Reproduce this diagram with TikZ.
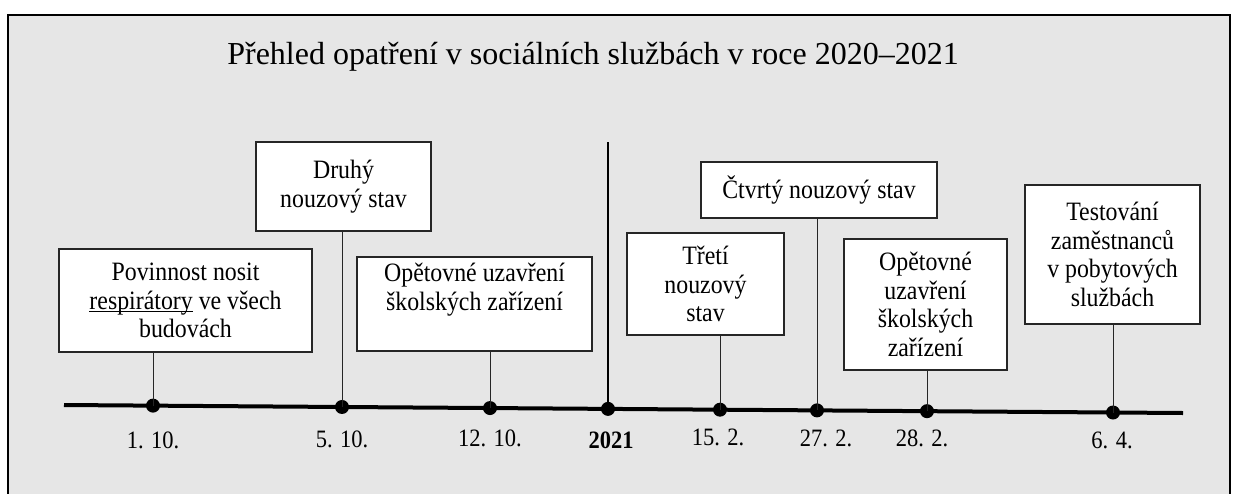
\documentclass[tikz,border=0pt]{standalone}
\usepackage{fontspec}
\setmainfont{Liberation Serif}
\newfontfamily\boxfont{Liberation Serif}[FakeStretch=0.9]
\definecolor{bggray}{HTML}{E6E6E6}
\newcommand\myul[1]{\setbox0\hbox{#1}\rlap{\rule[-3pt]{\wd0}{1.2pt}}\box0\relax}
\begin{document}
\begin{tikzpicture}[x=1pt,y=-1pt,
  evbox/.style={draw=black!85, line width=1.1pt, fill=white, align=center,
    inner sep=0pt, font=\boxfont\fontsize{26.5}{28.5}\selectfont},
  stem/.style={draw=black!85, line width=1pt},
  dot/.style={circle, fill=black, inner sep=0pt, minimum size=14pt},
  datelbl/.style={font=\boxfont\fontsize{25}{27}\selectfont, inner sep=0pt}]
\useasboundingbox (0,0) rectangle (1235,493);
\fill[white] (0,0) rectangle (1235,493);
\fill[bggray] (8,15) rectangle (1230,500);
\draw[line width=2pt] (8,500) -- (8,15) -- (1230,15) -- (1230,500);
\node[font=\fontsize{32}{36}\selectfont, inner sep=0pt] (title) at (593,57) {Přehled opatření v sociálních službách v roce 2020–2021};
% timeline
\coordinate (tl) at (64,405);
\coordinate (tr) at (1183,413);
\draw[line width=4pt] (tl) -- (tr);
% dots
\node[dot] (d1) at (153,405.64) {};
\node[dot] (d2) at (342,406.99) {};
\node[dot] (d3) at (490,408.05) {};
\node[dot] (d0) at (608,408.89) {};
\node[dot] (d4) at (720,409.69) {};
\node[dot] (d5) at (817,410.38) {};
\node[dot] (d6) at (927,411.17) {};
\node[dot] (d7) at (1113,412.5) {};
% boxes
\node[evbox, minimum width=253pt, minimum height=103pt] (b1) at (185.5,300.5)
  {Povinnost nosit\\\myul{respirátory} ve všech\\budovách};
\node[evbox, minimum width=175pt, minimum height=89pt] (b2) at (343.5,186.5)
  {Druhý\\nouzový stav};
\node[evbox, minimum width=235pt, minimum height=94pt] (b3) at (474.5,304)
  {Opětovné uzavření\\školských zařízení\\[6pt]};
\node[evbox, minimum width=157pt, minimum height=102pt] (b4) at (705.5,284)
  {Třetí\\nouzový\\stav};
\node[evbox, minimum width=236pt, minimum height=56pt] (b5) at (819,190)
  {Čtvrtý nouzový stav};
\node[evbox, minimum width=163pt, minimum height=131pt] (b6) at (925.5,304.5)
  {Opětovné\\uzavření\\školských\\zařízení};
\node[evbox, minimum width=175pt, minimum height=139pt] (b7) at (1112.5,254.5)
  {Testování\\zaměstnanců\\v pobytových\\službách};
% 2021 line
\coordinate (y2021) at (608,142);
\draw[line width=2.5pt] (y2021) -- (d0.center);
% stems
\draw[stem] (b1.south -| d1) -- (d1.center);
\draw[stem] (b2.south -| d2) -- (d2.center);
\draw[stem] (b3.south -| d3) -- (d3.center);
\draw[stem] (b4.south -| d4) -- (d4.center);
\draw[stem] (b5.south -| d5) -- (d5.center);
\draw[stem] (b6.south -| d6) -- (d6.center);
\draw[stem] (b7.south -| d7) -- (d7.center);
% labels
\node[datelbl] (l1) at (153,440) {1. 10.};
\node[datelbl] (l2) at (342,439) {5. 10.};
\node[datelbl] (l3) at (490,438) {12. 10.};
\node[datelbl, font=\boxfont\fontsize{25}{27}\selectfont\bfseries] (l0) at (611,440) {2021};
\node[datelbl] (l4) at (718,437) {15. 2.};
\node[datelbl] (l5) at (826,438) {27. 2.};
\node[datelbl] (l6) at (922,438) {28. 2.};
\node[datelbl] (l7) at (1112,440) {6. 4.};
\end{tikzpicture}
\end{document}
